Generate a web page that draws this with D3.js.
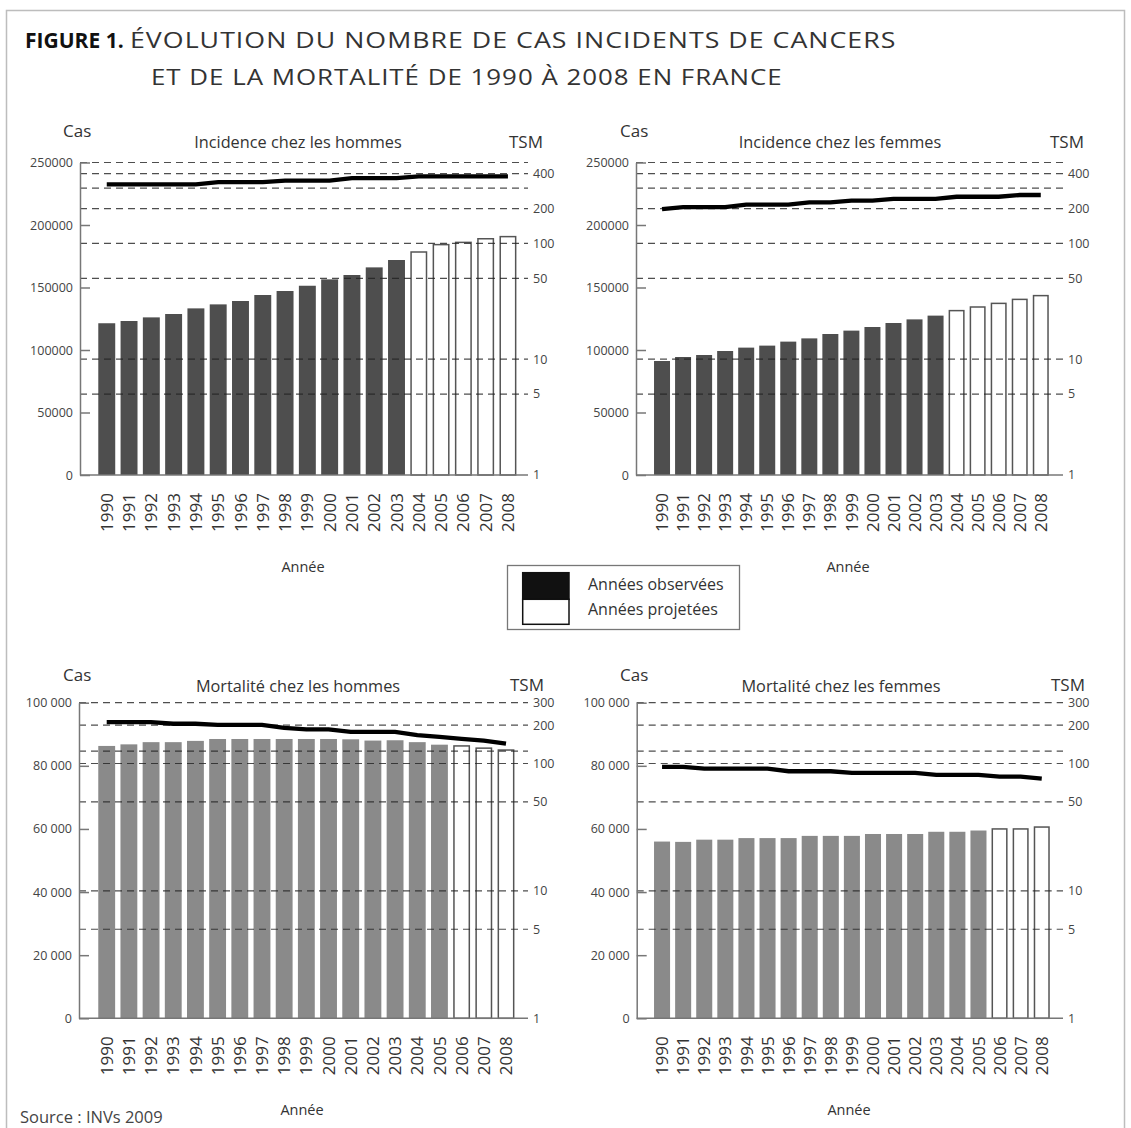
<!DOCTYPE html>
<html>
<head>
<meta charset="utf-8">
<script src="https://cdn.jsdelivr.net/npm/d3@7"></script>
<style>
  html, body { margin: 0; padding: 0; background: #fff; }
  svg { display: block; font-family: "Open Sans", "DejaVu Sans", sans-serif; }
</style>
</head>
<body>
<svg id="chart" width="1131" height="1128"></svg>
<script>
// ---------------- DATA ----------------
const years = ["1990","1991","1992","1993","1994","1995","1996","1997","1998","1999",
               "2000","2001","2002","2003","2004","2005","2006","2007","2008"];

// Incidence (cas) and TSM
const incHommesCas = [121400,123200,126100,128800,133300,136500,139200,144000,147200,151400,
                      156500,160000,166100,172000,178400,184300,186100,189000,190700];
const incHommesTSM = [323,323,323,323,323,338,338,338,349,349,349,366,366,366,380,380,380,380,380];
const incFemmesCas = [91200,94400,96000,99200,101900,103500,106700,109300,112800,115500,
                      118400,121600,124500,127500,131500,134400,137300,140500,143500];
const incFemmesTSM = [198,206,206,206,216,216,216,226,226,234,234,243,243,243,253,253,253,262,262];

// Mortalité (cas) and TSM
const mortHommesCas = [86300,86800,87500,87500,87900,88500,88500,88500,88500,88500,
                       88500,88400,88000,88100,87500,86700,86300,85600,85000];
const mortHommesTSM = [211,211,211,205,205,201,201,201,190,185,185,177,177,177,167,162,156,151,143];
const mortFemmesCas = [56000,55900,56600,56600,57100,57100,57100,57800,57800,57800,
                       58400,58400,58400,59100,59100,59500,60000,60000,60600];
const mortFemmesTSM = [94,94,91.2,91.2,91.2,91.2,86.9,86.9,86.9,84.4,84.4,84.4,84.4,81.4,81.4,81.4,78.9,78.9,76.1];

// last observed year (after: projected)
const incLastObserved = "2003";
const mortLastObserved = "2005";

// Tick values
const incCasTicks  = [0,50000,100000,150000,200000,250000];
const mortCasTicks = [0,20000,40000,60000,80000,100000];
const incTsmLabels = [1,5,10,50,100,200,400];
const incTsmGrid   = [5,10,50,100,200,300,400,500];
const mortTsmLabels = [1,5,10,50,100,200,300];
const mortTsmGrid   = [5,10,50,100,125,200,300];

const panelTitles = ["Incidence chez les hommes","Incidence chez les femmes",
                     "Mortalité chez les hommes","Mortalité chez les femmes"];
const legendLabels = ["Années observées","Années projetées"];
const titleBold = "FIGURE 1.";
const titleLine1 = "ÉVOLUTION DU NOMBRE DE CAS INCIDENTS DE CANCERS";
const titleLine2 = "ET DE LA MORTALITÉ DE 1990 À 2008 EN FRANCE";

// ---------------- LAYOUT ----------------
const svg = d3.select("#chart");
const fmtPlain = d3.format("d");
const fmtSpace = d3.formatLocale({decimal: ",", thousands: " ", grouping: [3], currency: ["", "€"]}).format(",d");

const panels = [
  {cas: incHommesCas, tsm: incHommesTSM, last: incLastObserved, title: panelTitles[0],
   fill: "#4e4e4e", axisX: 80, rightEnd: 528, band: [95.5, 519.2], y0: 475, yTop: 162.5,
   casMax: 250000, casTicks: incCasTicks, fmt: fmtPlain, tsmMax: 500, tsmLabels: incTsmLabels, tsmGrid: incTsmGrid,
   casLabelX: 63, titleX: 298, tsmX: 509, headY: 148, tsmY: 148, casY: 137, anneeX: 303, anneeY: 572},
  {cas: incFemmesCas, tsm: incFemmesTSM, last: incLastObserved, title: panelTitles[1],
   fill: "#4e4e4e", axisX: 636, rightEnd: 1063, band: [651.4, 1051.4], y0: 475, yTop: 162.5,
   casMax: 250000, casTicks: incCasTicks, fmt: fmtPlain, tsmMax: 500, tsmLabels: incTsmLabels, tsmGrid: incTsmGrid,
   casLabelX: 620, titleX: 840, tsmX: 1050, headY: 148, tsmY: 148, casY: 137, anneeX: 848, anneeY: 572},
  {cas: mortHommesCas, tsm: mortHommesTSM, last: mortLastObserved, title: panelTitles[2],
   fill: "#8a8a8a", axisX: 79, rightEnd: 528, band: [95.5, 517.2], y0: 1018.3, yTop: 702.7,
   casMax: 100000, casTicks: mortCasTicks, fmt: fmtSpace, tsmMax: 300, tsmLabels: mortTsmLabels, tsmGrid: mortTsmGrid,
   casLabelX: 63, titleX: 298, tsmX: 510, headY: 692, tsmY: 691, casY: 681, anneeX: 302, anneeY: 1115},
  {cas: mortFemmesCas, tsm: mortFemmesTSM, last: mortLastObserved, title: panelTitles[3],
   fill: "#8a8a8a", axisX: 636.7, rightEnd: 1063, band: [651.4, 1052.4], y0: 1018.3, yTop: 702.7,
   casMax: 100000, casTicks: mortCasTicks, fmt: fmtSpace, tsmMax: 300, tsmLabels: mortTsmLabels, tsmGrid: mortTsmGrid,
   casLabelX: 620, titleX: 841, tsmX: 1051, headY: 692, tsmY: 691, casY: 681, anneeX: 849, anneeY: 1115}
];

// Frame
svg.append("rect").attr("x", 6.5).attr("y", 10.5).attr("width", 1118).attr("height", 1130)
  .attr("fill", "none").attr("stroke", "#bdbdbd").attr("stroke-width", 1.5);

// Title: bold part plain; regular part horizontally widened to the reference's wide face
function wideText(x, y, txt, target) {
  const g = svg.append("g");
  const t = g.append("text").attr("x", 0).attr("y", 0).attr("font-size", 21)
    .attr("fill", "#333").attr("letter-spacing", 0.8).text(txt);
  const w = t.node().getComputedTextLength();
  g.attr("transform", `translate(${x},${y}) scale(${(target / w).toFixed(4)},1)`);
}
svg.append("text").attr("x", 25).attr("y", 48).attr("font-size", 21).attr("font-weight", 700)
  .attr("fill", "#111").text(titleBold);
wideText(130, 48, titleLine1, 767);
wideText(151, 85, titleLine2, 632);

panels.forEach(p => {
  const g = svg.append("g");
  const x = d3.scaleBand().domain(years).range(p.band).paddingInner(0.24).paddingOuter(0.125);
  const y = d3.scaleLinear().domain([0, p.casMax]).range([p.y0, p.yTop]);
  const yR = d3.scaleLog().domain([1, p.tsmMax]).range([p.y0, p.yTop]);
  const lastIdx = years.indexOf(p.last);

  // Bars
  g.selectAll("rect.bar").data(p.cas).join("rect")
    .attr("class", "bar")
    .attr("x", (d, i) => x(years[i]) + (i > lastIdx ? 0.75 : 0))
    .attr("width", (d, i) => x.bandwidth() - (i > lastIdx ? 1.5 : 0))
    .attr("y", d => y(d))
    .attr("height", d => p.y0 - y(d))
    .attr("fill", (d, i) => i > lastIdx ? "#fff" : p.fill)
    .attr("stroke", (d, i) => i > lastIdx ? "#555" : "none")
    .attr("stroke-width", 1.5);

  // Dashed grid (TSM)
  g.selectAll("line.grid").data(p.tsmGrid).join("line")
    .attr("class", "grid")
    .attr("x1", p.axisX).attr("x2", p.rightEnd)
    .attr("y1", d => yR(d)).attr("y2", d => yR(d))
    .attr("stroke", "#222").attr("stroke-opacity", 0.8)
    .attr("stroke-width", 1.2).attr("stroke-dasharray", "7,5");

  // TSM line
  const line = d3.line()
    .x((d, i) => x(years[i]) + x.bandwidth() / 2)
    .y(d => yR(d));
  g.append("path").datum(p.tsm).attr("d", line)
    .attr("fill", "none").attr("stroke", "#000").attr("stroke-width", 4.3);

  // Left axis
  const axL = d3.axisLeft(y).tickValues(p.casTicks).tickFormat(p.fmt)
    .tickSizeInner(-10).tickSizeOuter(0).tickPadding(7);
  const ga = g.append("g").attr("transform", `translate(${p.axisX},0)`).call(axL);
  ga.select(".domain").attr("stroke", "#777").attr("stroke-width", 1.5);
  ga.selectAll(".tick line").attr("stroke", "#777").attr("stroke-width", 1.5);
  ga.selectAll(".tick text").attr("fill", "#444").attr("font-size", 12.5)
    .attr("font-family", "'Open Sans', sans-serif");

  // X axis baseline
  g.append("line").attr("x1", p.axisX).attr("x2", p.rightEnd)
    .attr("y1", p.y0).attr("y2", p.y0).attr("stroke", "#777").attr("stroke-width", 1.5);

  // Right TSM labels
  g.selectAll("text.rlab").data(p.tsmLabels).join("text")
    .attr("class", "rlab")
    .attr("x", p.rightEnd + 5).attr("y", d => yR(d)).attr("dy", "0.35em")
    .attr("font-size", 12.5).attr("fill", "#444").text(d => d);

  // Year labels
  g.selectAll("text.year").data(years).join("text")
    .attr("class", "year")
    .attr("transform", d => `translate(${x(d) + x.bandwidth() / 2},${p.y0 + 18}) rotate(-90)`)
    .attr("text-anchor", "end").attr("dy", "0.36em")
    .attr("font-size", 17).attr("fill", "#333").text(d => d);

  // Headers
  g.append("text").attr("x", p.casLabelX).attr("y", p.casY).attr("font-size", 17).attr("fill", "#333").text("Cas");
  g.append("text").attr("x", p.titleX).attr("y", p.headY).attr("text-anchor", "middle")
    .attr("font-size", 16.3).attr("fill", "#333").text(p.title);
  g.append("text").attr("x", p.tsmX).attr("y", p.tsmY).attr("font-size", 17).attr("fill", "#333").text("TSM");
  g.append("text").attr("x", p.anneeX).attr("y", p.anneeY).attr("text-anchor", "middle")
    .attr("font-size", 14.5).attr("fill", "#333").text("Année");
});

// Legend
const lg = svg.append("g");
lg.append("rect").attr("x", 507.5).attr("y", 565.5).attr("width", 232).attr("height", 64)
  .attr("fill", "#fff").attr("stroke", "#777").attr("stroke-width", 1.3);
lg.append("rect").attr("x", 522.7).attr("y", 572.7).attr("width", 46.3).attr("height", 26.6)
  .attr("fill", "#111").attr("stroke", "#111").attr("stroke-width", 1.5);
lg.append("rect").attr("x", 522.7).attr("y", 599.3).attr("width", 46.3).attr("height", 25)
  .attr("fill", "#fff").attr("stroke", "#111").attr("stroke-width", 1.5);
lg.selectAll("text").data(legendLabels).join("text")
  .attr("x", 588).attr("y", (d, i) => 590 + i * 25)
  .attr("font-size", 16).attr("fill", "#333").text(d => d);

// Source
svg.append("text").attr("x", 20).attr("y", 1123).attr("font-size", 16.5).attr("fill", "#444")
  .text("Source : INVs 2009");
</script>
</body>
</html>
